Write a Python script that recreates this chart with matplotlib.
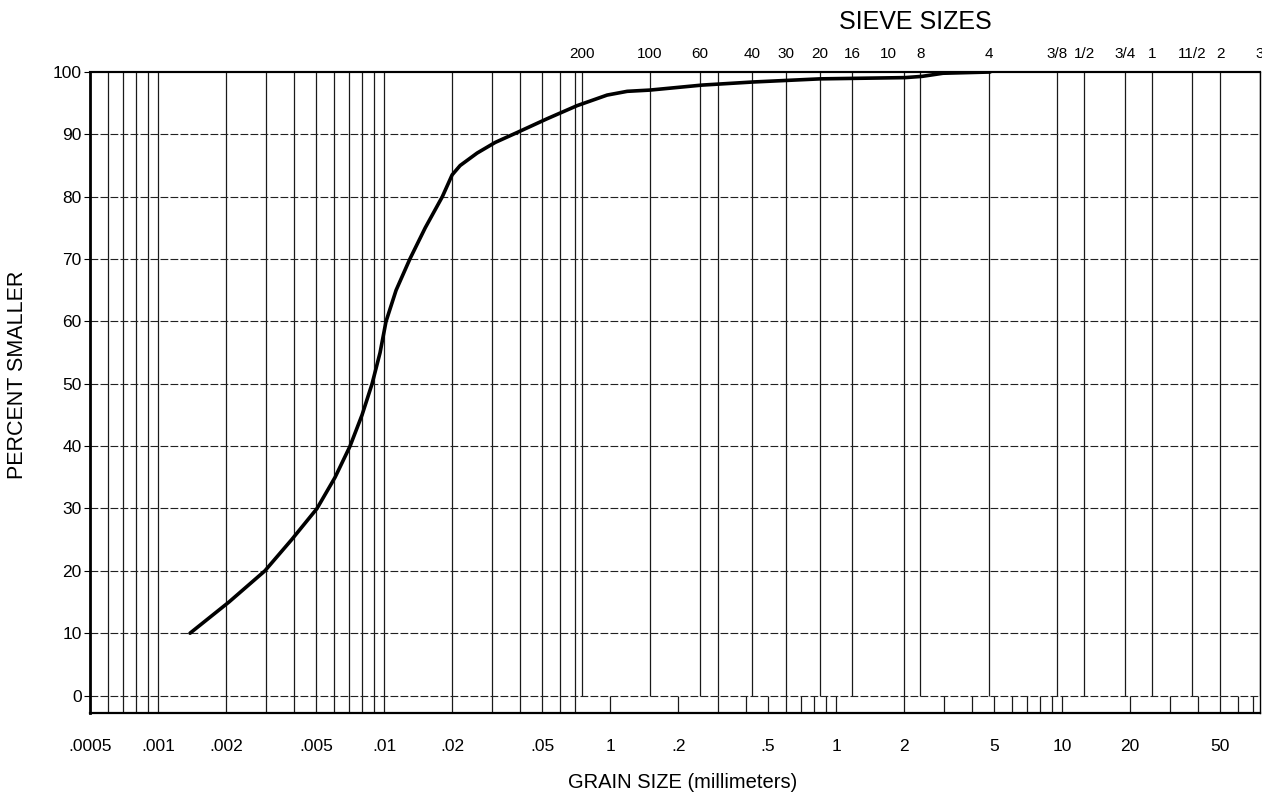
import matplotlib.pyplot as plt

plt.rcParams['font.family'] = ['Liberation Sans', 'DejaVu Sans']

# grain size curve
grain_mm = [0.001385, 0.00206, 0.00297, 0.0039, 0.00505, 0.00607, 0.00707, 0.00799,
            0.00885, 0.0096, 0.0102, 0.0113, 0.0130, 0.0152, 0.0181, 0.0200, 0.0217,
            0.0258, 0.031, 0.0388, 0.0526, 0.0714, 0.097, 0.119, 0.150, 0.255, 0.43,
            0.849, 2.02, 2.40, 2.97, 4.80]
pct_smaller = [10, 15, 20, 25, 30, 35, 40, 45,
               50, 55, 60, 65, 70, 75, 80, 83.5, 85,
               87, 88.7, 90.3, 92.5, 94.6, 96.3, 96.9, 97.1, 97.9, 98.4,
               98.9, 99.1, 99.3, 99.8, 100]

# sieve openings (mm) and their names
sieve_mm = [0.075, 0.15, 0.25, 0.3, 0.425, 0.6, 0.85, 1.18, 2.0, 2.36,
            4.75, 9.5, 12.5, 19, 25, 37.5, 50, 75]
sieve_label_mm = [0.075, 0.15, 0.25, 0.425, 0.6, 0.85, 1.18, 1.7, 2.36,
                  4.75, 9.5, 12.5, 19, 25, 37.5, 50, 75]
sieve_labels = ['200', '100', '60', '40', '30', '20', '16', '10', '8',
                '4', '3/8', '1/2', '3/4', '1', '11/2', '2', '3']

grain_ticks = [0.0005, 0.001, 0.002, 0.005, 0.01, 0.02, 0.05, 0.1, 0.2, 0.5,
               1, 2, 5, 10, 20, 50]
grain_labels = ['.0005', '.001', '.002', '.005', '.01', '.02', '.05', '1', '.2', '.5',
                '1', '2', '5', '10', '20', '50']

xmin, xmax = 0.0005, 75
ybot = -2.8

fig = plt.figure(figsize=(12.62, 7.92), dpi=100)
ax = fig.add_axes([90 / 1262, 79 / 792, 1170 / 1262, 641 / 792])
ax.set_xscale('log')
ax.set_xlim(xmin, xmax)
ax.set_ylim(ybot, 100)

# log grid in the fine range, full height
fine = [m * 10.0 ** e for e in (-4, -3, -2) for m in range(1, 10)]
fine = [v for v in fine if 0.00055 < v < 0.0705]
ax.vlines(fine, ybot, 100, color='#1a1a1a', lw=0.9)
# sieve lines
ax.vlines(sieve_mm, 0, 100, color='#1a1a1a', lw=0.9)
# short log ticks in the strip under 0
strip = [m * 10.0 ** e for e in (-1, 0, 1) for m in range(1, 10)]
strip = [v for v in strip if v < xmax]
ax.vlines(strip, ybot, 0, color='#1a1a1a', lw=0.9)
# horizontal grid
ax.hlines(range(0, 100, 10), xmin, xmax, color='#222222', lw=0.8,
          linestyles=(0, (7, 2)))

ax.plot(grain_mm, pct_smaller, color='black', lw=2.6, solid_capstyle='round',
        solid_joinstyle='round')

ax.set_yticks(range(0, 101, 10))
ax.tick_params(axis='y', direction='out', length=4, width=0.8, labelsize=12.5, pad=2)
ax.set_xticks(grain_ticks, labels=grain_labels)
ax.xaxis.set_minor_locator(plt.NullLocator())
ax.tick_params(axis='x', length=0, labelsize=12.5, pad=19)

top = ax.secondary_xaxis('top')
top.set_xticks(sieve_label_mm, labels=sieve_labels)
top.xaxis.set_minor_locator(plt.NullLocator())
top.tick_params(axis='x', length=0, labelsize=11, pad=8)
top.spines['top'].set_linewidth(1.5)

for side, w in [('left', 2.0), ('bottom', 1.6), ('top', 1.5), ('right', 1.0)]:
    ax.spines[side].set_linewidth(w)

fig.text(915 / 1262, 1 - 22 / 792, 'SIEVE SIZES', ha='center', va='center', fontsize=18)
fig.text(683 / 1262, 1 - 782 / 792, 'GRAIN SIZE (millimeters)', ha='center', va='center',
         fontsize=14.5)
fig.text(18 / 1262, 1 - 375 / 792, 'PERCENT SMALLER', ha='center', va='center',
         rotation=90, fontsize=15.5)

fig.savefig('out.png', dpi=100)
